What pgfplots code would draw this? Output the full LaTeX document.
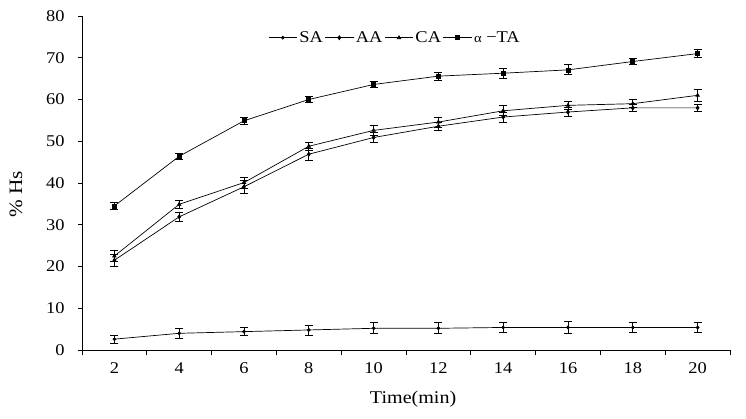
\documentclass[border=0pt]{standalone}
\usepackage{fontspec}
\setmainfont[FakeStretch=1.12]{Liberation Serif}
\usepackage{pgfplots}
\pgfplotsset{compat=1.18}
\pgfplotsset{eb/.style={black, line width=0.7pt,
    error bars/y dir=both, error bars/y explicit,
    error bars/error bar style={line width=0.8pt},
    error bars/error mark options={rotate=90, mark size=4bp, line width=0.8pt}}}
\begin{document}
\begin{tikzpicture}
\useasboundingbox (-82bp,-69bp) rectangle (664bp,350bp);
\begin{axis}[
  scale only axis,
  width=648bp, height=334bp,
  xmin=1, xmax=21, ymin=0, ymax=80,
  axis lines=left,
  axis line style={-, line width=0.8pt},
  xtick={2,4,...,20},
  minor xtick={1,3,...,21},
  major x tick style={draw=none},
  minor tick length=5bp,
  ytick={0,10,...,80},
  major tick length=4bp,
  tick align=outside,
  tick style={black, line width=0.8pt},
  /pgf/number format/assume math mode=true,
  ticklabel style={font=\fontsize{16.5}{18}\selectfont},
  xticklabel style={yshift=-5bp},
  yticklabel style={xshift=-10bp},
  xlabel={Time(min)},
  ylabel={\% Hs},
  label style={font=\fontsize{18}{20}\selectfont},
  xlabel style={at={(axis description cs:0.511,-0.147)}, anchor=center},
  ylabel style={at={(axis description cs:-0.102,0.467)}, anchor=center, font=\fontsize{19}{21}\selectfont},
  legend columns=4,
  legend style={at={(axis description cs:0.483,0.935)}, anchor=center, draw=none, fill=none,
    font=\fontsize{16.5}{18}\selectfont, column sep=0pt,
    /tikz/every even column/.append style={column sep=0pt}},
  legend image code/.code={\draw[#1, mark repeat=2, mark phase=2] plot coordinates {(0cm,0cm) (0.5cm,0cm) (1cm,0cm)};},
]
\addplot[eb, mark=*, mark size=1.5pt, mark options={black, fill=black}] coordinates {
(2,2.6) +- (0,1.0)
(4,4.0) +- (0,1.2)
(6,4.4) +- (0,1.0)
(8,4.8) +- (0,1.2)
(10,5.2) +- (0,1.3)
(12,5.2) +- (0,1.3)
(14,5.4) +- (0,1.3)
(16,5.4) +- (0,1.5)
(18,5.4) +- (0,1.3)
(20,5.4) +- (0,1.3)
};
\addlegendentry{SA}
\addplot[eb, mark=diamond*, mark size=2pt, mark options={black, fill=black}] coordinates {
(2,21.5) +- (0,1.5)
(4,31.9) +- (0,1.0)
(6,39.1) +- (0,1.5)
(8,46.9) +- (0,1.5)
(10,50.9) +- (0,1.2)
(12,53.6) +- (0,1.0)
(14,55.8) +- (0,1.2)
(16,57.0) +- (0,1.0)
(18,58.0) +- (0,0.8)
(20,58.0) +- (0,0.8)
};
\addlegendentry{AA}
\addplot[eb, mark=triangle*, mark size=2pt, mark options={black, fill=black}] coordinates {
(2,22.5) +- (0,1.3)
(4,34.9) +- (0,1.0)
(6,40.1) +- (0,1.3)
(8,48.8) +- (0,1.0)
(10,52.6) +- (0,1.2)
(12,54.6) +- (0,1.2)
(14,57.3) +- (0,1.2)
(16,58.6) +- (0,1.0)
(18,59.0) +- (0,1.0)
(20,61.0) +- (0,1.5)
};
\addlegendentry{CA}
\addplot[eb, mark=square*, mark size=2pt, mark options={black, fill=black}] coordinates {
(2,34.5) +- (0,0.8)
(4,46.4) +- (0,0.8)
(6,54.9) +- (0,0.8)
(8,60.0) +- (0,0.8)
(10,63.6) +- (0,0.8)
(12,65.6) +- (0,1.0)
(14,66.3) +- (0,1.2)
(16,67.1) +- (0,1.2)
(18,69.1) +- (0,0.8)
(20,71.0) +- (0,1.0)
};
\addlegendentry{{\fontsize{13}{14}\selectfont α} −TA}
\end{axis}
\end{tikzpicture}
\end{document}
